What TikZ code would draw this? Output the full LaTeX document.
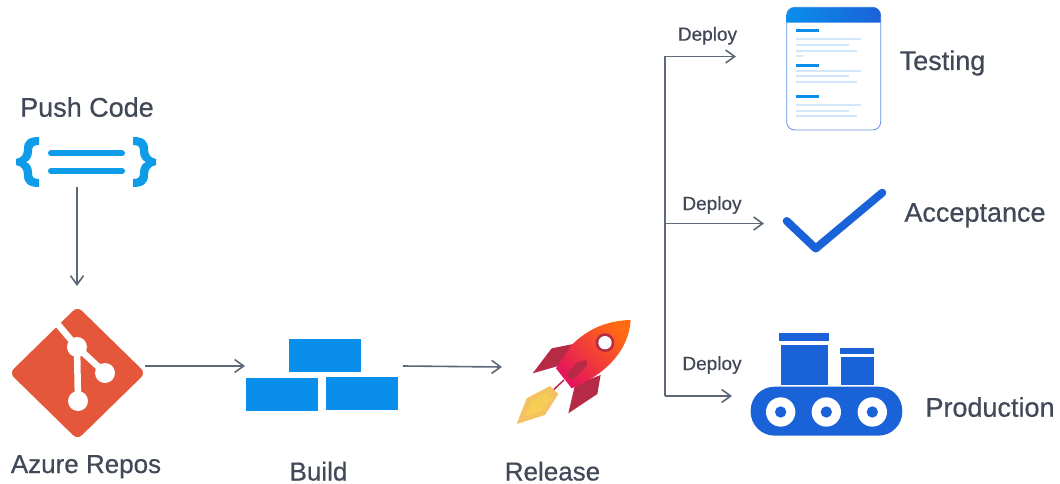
\documentclass[tikz,border=0pt]{standalone}
\usepackage{fontspec}
\setmainfont{Liberation Sans}[FakeBold=0.5]
\usetikzlibrary{arrows.meta}
\definecolor{ink}{HTML}{414958}
\definecolor{wire}{HTML}{5D6878}
\definecolor{brace}{HTML}{0E9BE8}
\definecolor{brick}{HTML}{0A8EEB}
\definecolor{gitred}{HTML}{E4573B}
\definecolor{royal}{HTML}{1A62D8}
\definecolor{pale}{HTML}{D2E7FA}
\definecolor{finred}{HTML}{B52A45}
\definecolor{rocketpink}{HTML}{E5145C}
\definecolor{rocketorange}{HTML}{FF6A13}
\definecolor{flameout}{HTML}{F5C262}
\definecolor{flamein}{HTML}{F6CE55}
\tikzset{
  flow/.style={draw=wire,line width=1.6pt,->},
  >={Straight Barb[length=9pt,width=13pt,line width=1.6pt]},
  iconbox/.style={inner sep=0pt,outer sep=0pt},
  bigtxt/.style={inner sep=0pt,anchor=base,text=ink,font=\fontsize{27}{30}\selectfont},
  midtxt/.style={inner sep=0pt,anchor=base,text=ink,font=\fontsize{26}{30}\selectfont},
  smalltxt/.style={inner sep=0pt,anchor=base,text=ink,font=\fontsize{19}{22}\selectfont},
  zoomed/.style={x=0.3333pt,y=-0.3333pt}
}
\begin{document}
\begin{tikzpicture}[x=1pt,y=-1pt]
\useasboundingbox (0,0) rectangle (1060,484);
\fill[white] (0,0) rectangle (1060,484);
\node[bigtxt] (pushlabel) at (87,116.7) {Push Code};
\node[midtxt] (reposlabel) at (86,473) {Azure Repos};
\node[midtxt] (buildlabel) at (318.5,480.5) {Build};
\node[midtxt] (releaselabel) at (552.5,480.5) {Release};
\node[bigtxt] (testinglabel) at (942.5,70) {Testing};
\node[bigtxt] (acceptancelabel) at (975,221.7) {Acceptance};
\node[bigtxt] (productionlabel) at (990,416.7) {Production};
\node[smalltxt] (deployone) at (707.5,40.7) {Deploy};
\node[smalltxt] (deploytwo) at (712,210) {Deploy};
\node[smalltxt] (deploythree) at (712,370) {Deploy};
\node[iconbox,minimum width=140pt,minimum height=50pt] (code) at (77,162) {};
\node[iconbox,minimum width=136pt,minimum height=160pt] (repos) at (77,366) {};
\node[iconbox,minimum width=158pt,minimum height=80pt] (build) at (324,366) {};
\node[iconbox,minimum width=130pt,minimum height=110pt] (rocket) at (567,367) {};
\node[iconbox,minimum width=148pt,minimum height=120pt] (testing) at (810,56.5) {};
\node[iconbox,minimum width=120pt,minimum height=60pt] (acceptance) at (824,223.5) {};
\node[iconbox,minimum width=170pt,minimum height=100pt] (production) at (817,396) {};
\coordinate (trunk) at (665,396);
\draw[flow] (code.south) -- (repos.north);
\draw[flow] (repos.east) -- (build.west);
\draw[flow] (build.east) -- (rocket.west);
\draw[flow] (trunk) |- (testing.west);
\draw[flow] (trunk |- acceptance.west) -- (acceptance.west);
\draw[flow] (trunk) -- (production.west);
\fill[brace] (39,137) -- (39,145) .. controls (33,145) and (32,147) .. (32,152) .. controls (32,157) and (29,161) .. (26,162) .. controls (29,163) and (32,167) .. (32,172) .. controls (32,177) and (33,179) .. (39,179) -- (39,187) .. controls (28,187) and (24,183) .. (24,175) .. controls (24,170) and (22,166) .. (16,165) -- (16,159) .. controls (22,158) and (24,154) .. (24,149) .. controls (24,141) and (28,137) .. (39,137) -- cycle;
\fill[brace] (133,137) -- (133,145) .. controls (139,145) and (140,147) .. (140,152) .. controls (140,157) and (143,161) .. (146,162) .. controls (143,163) and (140,167) .. (140,172) .. controls (140,177) and (139,179) .. (133,179) -- (133,187) .. controls (144,187) and (148,183) .. (148,175) .. controls (148,170) and (150,166) .. (156,165) -- (156,159) .. controls (150,158) and (148,154) .. (148,149) .. controls (148,141) and (144,137) .. (133,137) -- cycle;
\draw[brace,line width=6pt,line cap=round] (51,153.5) -- (122,153.5);
\draw[brace,line width=6pt,line cap=round] (51,171) -- (122,171);
\fill[gitred,rounded corners=6pt] (9.5,373) -- (77.5,306.5) -- (145.5,373) -- (77.5,439.5) -- cycle;
\draw[white,line width=6.5pt] (55,321) -- (77,347) -- (105,373);
\draw[white,line width=6.5pt] (77,347) -- (78,401);
\foreach \cx/\cy in {77/347,105/373,78/401}
\fill[white] (\cx,\cy) circle (10);
\fill[brick] (289,339) rectangle (361,372);
\fill[brick] (246,378) rectangle (318,411);
\fill[brick] (326,377) rectangle (398,410);
\begin{scope}[shift={(490,300)},zoomed]
\draw[finred,line width=1.5pt] (222,240) -- (190,270);
\fill[finred] (250,132) -- (185,145) -- (128,220) -- (215,195) -- cycle;
\fill[finred] (332,225) -- (322,282) -- (235,340) -- (255,255) -- cycle;
\shade[bottom color=rocketpink,top color=rocketorange,shading angle=-45] (422,60) .. controls (340,62) and (285,95) .. (245,135) -- (198,205) -- (245,265) .. controls (310,240) and (415,175) .. (422,60) -- cycle;
\fill[finred] (290,180) -- (262,187) -- (230,225) -- (246,240) -- (290,198) -- cycle;
\fill[finred] (345,128) circle (28);
\fill[white] (345,128) circle (20);
\fill[flameout] (180,258) -- (205,282) -- (165,345) -- (80,372) -- (110,295) -- cycle;
\fill[flamein] (165,280) -- (185,295) -- (150,335) -- (105,350) -- (125,305) -- cycle;
\end{scope}
\begin{scope}[shift={(650,0)},zoomed]
\draw[royal!70!white,fill=white,line width=0.8pt,rounded corners=8pt] (410,22) rectangle (692,390);
\shade[left color=brick,right color=royal] (410,68) [rounded corners=8pt] -- (410,22) -- (692,22) [sharp corners] -- (692,68) -- cycle;
\foreach \by in {92,196,290}
\draw[brick,line width=3pt] (437,\by) -- (506,\by);
\foreach \ly/\lx in {118/633,134/598,152/620,167/460,213/633,229/598,245/620,316/633,333/598,349/620}
\draw[pale,line width=2pt] (437,\ly) -- (\lx,\ly);
\end{scope}
\draw[royal,line width=8pt,line cap=round,line join=round] (786.7,221) -- (815.7,248.5) -- (882.3,192.7);
\begin{scope}[shift={(650,320)},zoomed]
\fill[royal] (388,38) rectangle (536,64);
\fill[royal] (394,75) rectangle (534,196);
\fill[royal] (571,85) rectangle (673,103);
\fill[royal] (573,111) rectangle (673,196);
\fill[royal,rounded corners=24pt] (302,200) rectangle (757,347);
\foreach \wx in {392,529,667}{
\fill[white] (\wx,276) circle (44);
\fill[royal] (\wx,276) circle (17);
}
\end{scope}
\end{tikzpicture}
\end{document}
